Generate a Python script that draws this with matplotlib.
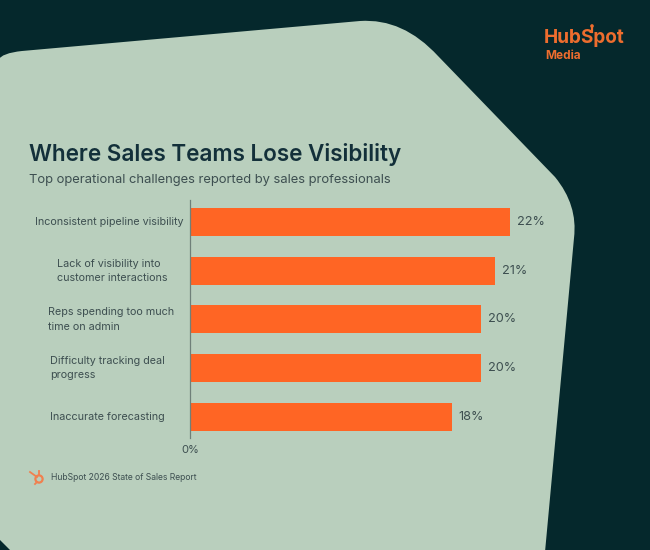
#!/usr/bin/env python3
"""Where Sales Teams Lose Visibility - horizontal bars on a rounded panel."""

import matplotlib
matplotlib.use("Agg")
import matplotlib.pyplot as plt
from matplotlib.patches import Circle, PathPatch
from matplotlib.path import Path

plt.rcParams['font.family'] = ['Inter', 'DejaVu Sans']

# chart values
CATEGORIES = [
    "Inconsistent pipeline visibility",
    "Lack of visibility into\ncustomer interactions",
    "Reps spending too much\ntime on admin",
    "Difficulty tracking deal\nprogress",
    "Inaccurate forecasting",
]
VALUES = [22, 21, 20, 20, 18]

TITLE = "Where Sales Teams Lose Visibility"
SUBTITLE = "Top operational challenges reported by sales professionals"
SOURCE = "HubSpot 2026 State of Sales Report"

# styling
DARK = "#05282c"
PANEL = "#b9cfbd"
ORANGE = "#ff6524"
TEXT = "#3d4f50"
TITLE_COL = "#13303a"
LOGO = "#ee6d2e"
W, H = 650, 550

# left edge of each category label, in pixels
LABEL_LEFT = [35, 57, 48, 50, 50]

fig = plt.figure(figsize=(W / 100, H / 100), dpi=100, facecolor=DARK)

# full figure layer in pixel coords for the panel, headings and logos
bg = fig.add_axes([0, 0, 1, 1], zorder=0)
bg.set_xlim(0, W)
bg.set_ylim(H, 0)
bg.axis('off')

M, L, Q = Path.MOVETO, Path.LINETO, Path.CURVE3
panel = [
    (-2, 60, M), (2, 53, Q), (22, 51, Q), (360, 21, L), (403, 18, Q), (438, 56, Q),
    (555, 177, L), (578, 205, Q), (574, 238, Q), (545, 552, L), (-2, 552, L),
]
bg.add_patch(PathPatch(Path([(x, y) for x, y, _ in panel], [c for _, _, c in panel]),
                       facecolor=PANEL, edgecolor='none'))

# dark corner at the bottom left
bg.fill([0, 0, 10], [540, 550, 550], color=DARK, lw=0)

bg.text(29, 154, TITLE, fontsize=16.2, fontweight='semibold', color=TITLE_COL, va='center')
bg.text(29, 180, SUBTITLE, fontsize=9.35, color=TEXT, va='center')
bg.text(51, 478, SOURCE, fontsize=6.2, color=TEXT, va='center')

# small sprocket beside the source line
bg.add_patch(Circle((39, 479), 3.6, facecolor='none', edgecolor="#f0804f", lw=1.6))
bg.plot([30, 37], [472, 477], color="#f0804f", lw=1.3)
bg.plot([39, 39], [471, 475], color="#f0804f", lw=1.3)
bg.plot([35, 37], [484, 482], color="#f0804f", lw=1.3)

# logo top right, the o of Spot carries a sprocket stalk
bg.text(544, 38, "HubSpot", fontsize=13.7, fontweight='bold', color=LOGO, va='center')
bg.text(545, 56, "Media", fontsize=8.5, fontweight='bold', color=LOGO, va='center')
bg.plot([592, 592], [26, 32], color=LOGO, lw=1.6)
bg.add_patch(Circle((592, 26), 1.8, facecolor=LOGO, edgecolor='none'))

# bars, 190..550 px wide at 14.54 px per percent
ax = fig.add_axes([190 / W, 1 - 438 / H, 360 / W, 238 / H], zorder=1)
ax.patch.set_alpha(0)
positions = list(range(len(VALUES)))
ax.barh(positions, VALUES, height=0.574, color=ORANGE)
ax.set_xlim(0, 360 / 14.54)
ax.set_ylim(4.431, -0.451)

for spine in ('top', 'right', 'bottom'):
    ax.spines[spine].set_visible(False)
ax.spines['left'].set_color("#6f8079")
ax.spines['left'].set_linewidth(0.9)

ax.set_yticks([])
ax.set_xticks([0], ["0%"])
ax.tick_params(axis='x', length=0, pad=5, labelsize=8, labelcolor=TEXT)

for pos, cat, left in zip(positions, CATEGORIES, LABEL_LEFT):
    ax.annotate(cat, xy=(0, pos), xycoords=ax.get_yaxis_transform(),
                xytext=(left - 190, 0), textcoords='offset pixels',
                ha='left', va='center', fontsize=7.75, color=TEXT, linespacing=1.55)

for pos, val in zip(positions, VALUES):
    ax.annotate(f"{val}%", xy=(val, pos), xytext=(7, 0), textcoords='offset pixels',
                ha='left', va='center', fontsize=9.2, color=TEXT)

fig.savefig("out.png", dpi=100, facecolor=DARK)
